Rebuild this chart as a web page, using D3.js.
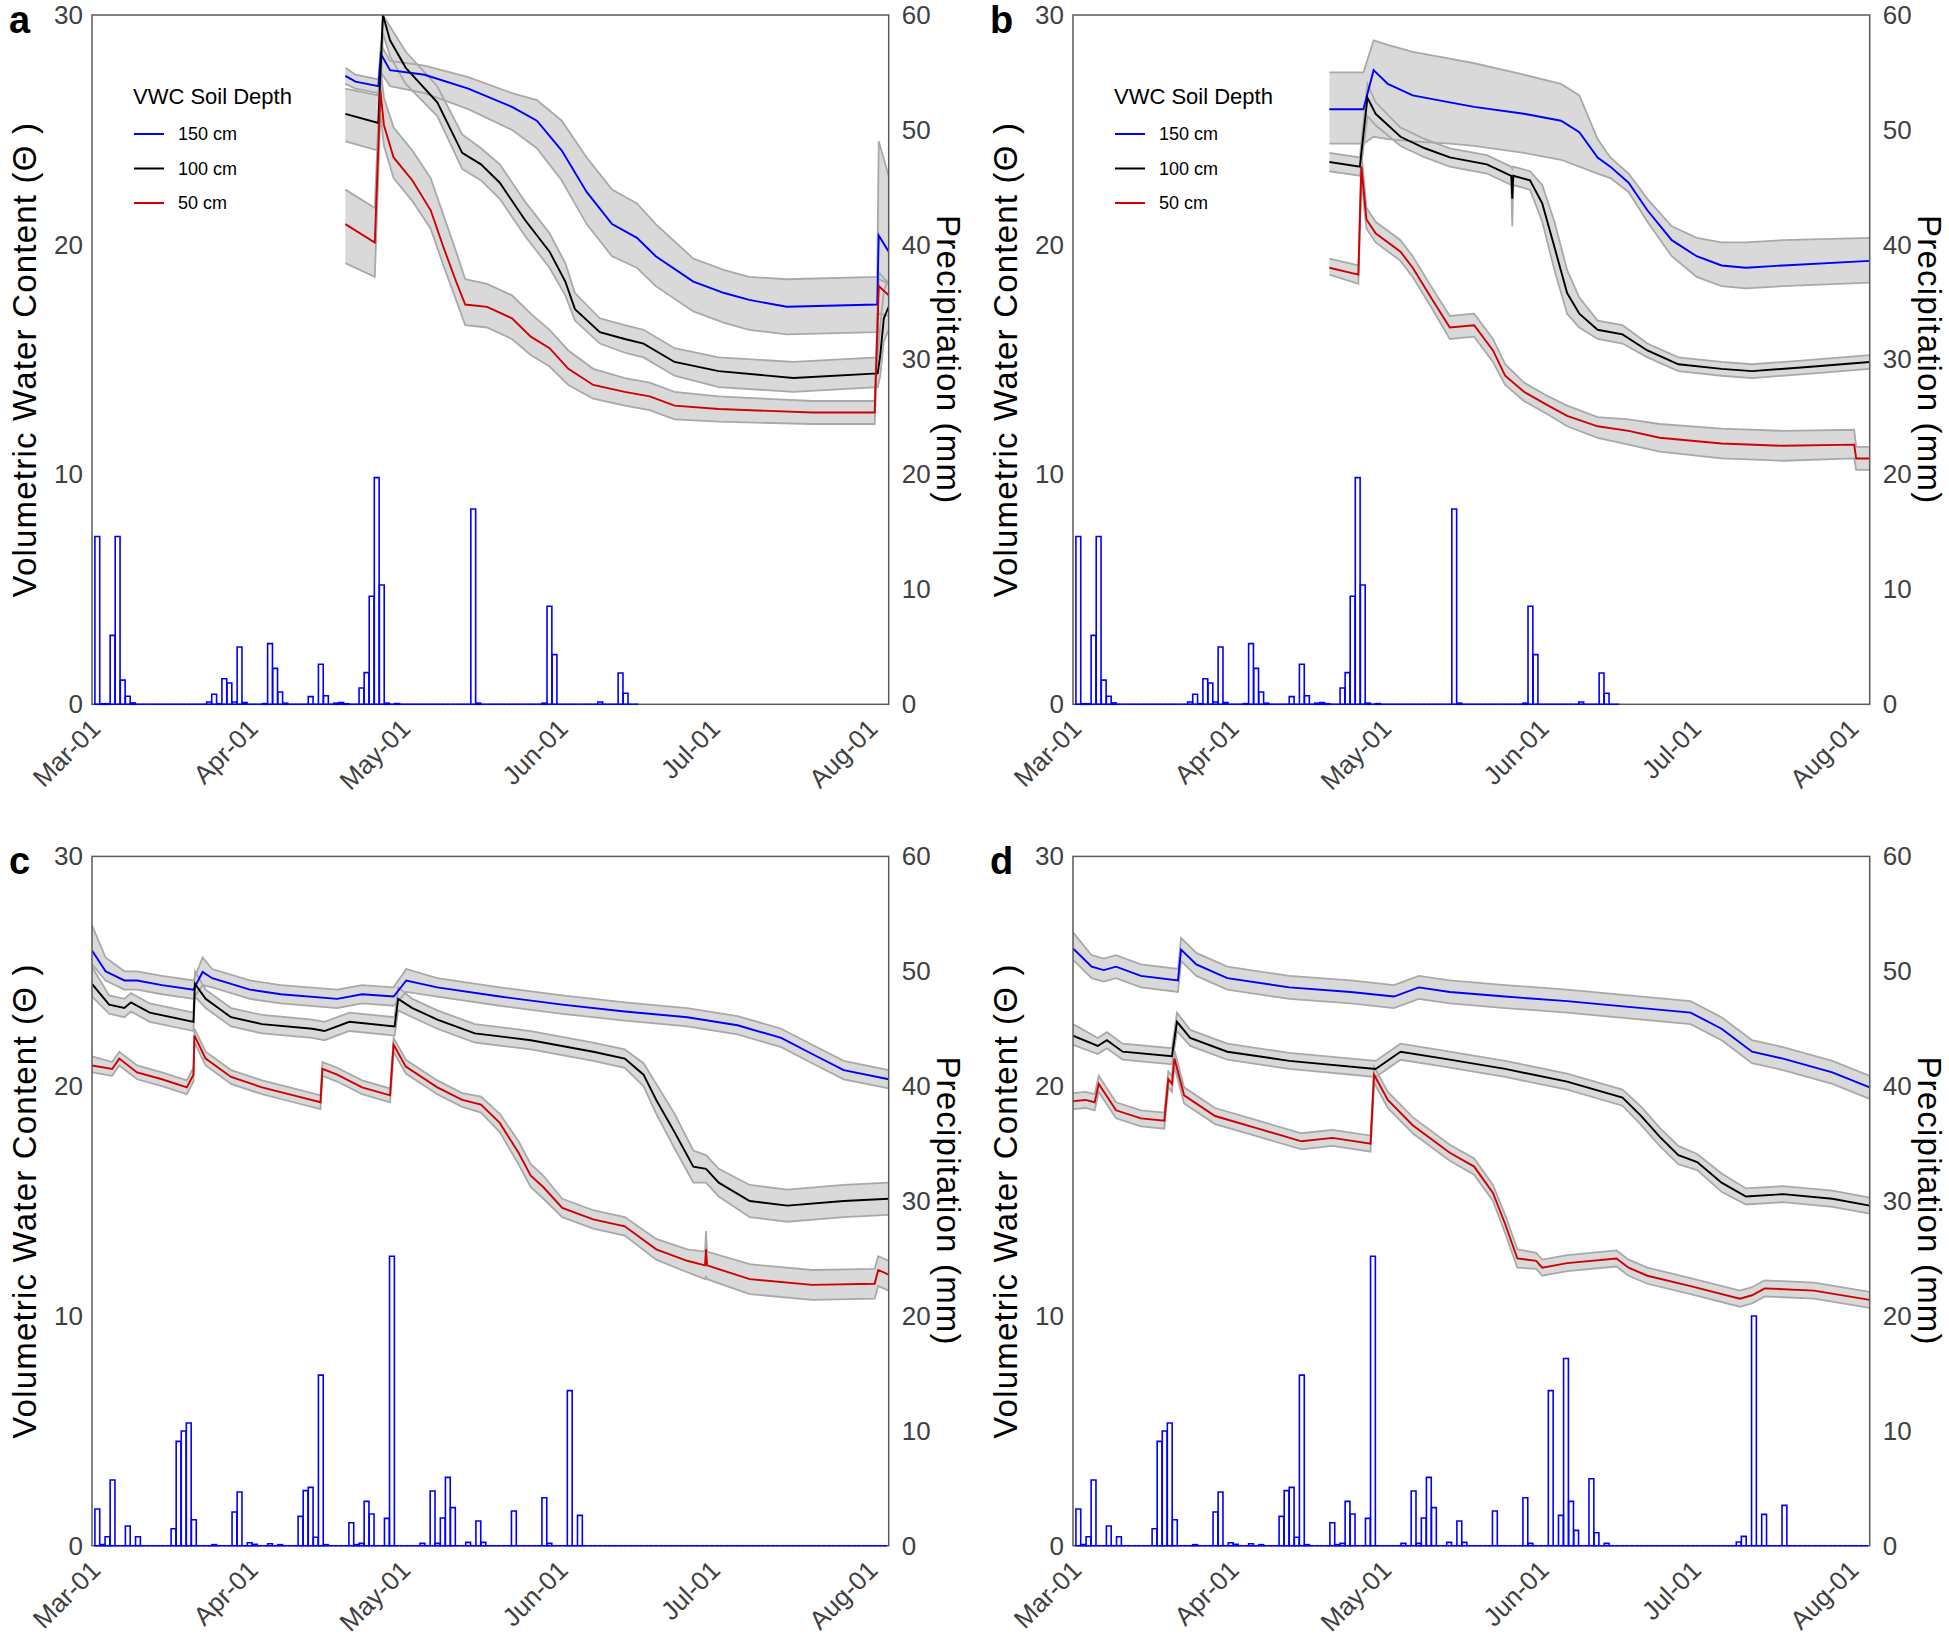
<!DOCTYPE html>
<html>
<head>
<meta charset="utf-8">
<title>Volumetric water content and precipitation</title>
<script src="https://cdn.jsdelivr.net/npm/d3@7"></script>
<style>
  body { margin: 0; background: #fff; }
  text { font-family: "Liberation Sans", Arial, sans-serif; }
  .tick text { fill: #404040; font-size: 26px; }
  .axis_label { font-size: 33px; letter-spacing: 1.2px; fill: #000; text-anchor: middle; }
  .panel_letter { font-size: 38px; font-weight: bold; }
  .legend text { font-size: 18px; }
</style>
</head>
<body>
<script>
// ---- data: rows are [day since Mar-01, mean - sd, mean, mean + sd] ----
var vwcA150 = [[48.0,27.0,27.35,27.7],[50.0,26.8,27.1,27.4],[54.5,26.6,26.9,27.2],[55.0,27.5,28.3,28.7],
  [56.8,26.9,27.6,28.0],[63.6,26.6,27.4,27.8],[72.2,25.9,26.8,27.3],[80.8,25.0,26.0,26.6],[85.7,24.2,25.4,26.3],
  [90.6,22.8,24.1,25.4],[95.5,20.9,22.3,23.8],[100.5,19.5,20.9,22.4],[105.4,19.0,20.3,21.8],[109.1,18.2,19.5,20.9],
  [116.5,17.1,18.4,19.4],[122.6,16.6,17.9,18.9],[127.5,16.3,17.6,18.6],[134.9,16.1,17.3,18.5],[152.7,16.2,17.4,18.6],
  [153.0,18.5,20.4,24.5],[154.96,18.3,19.7,23.0]];
var vwcA100 = [[48.0,24.5,25.7,26.8],[54.5,24.1,25.3,26.5],[55.4,29.2,30.0,30.0],[56.8,28.2,28.9,29.5],
  [59.9,27.0,27.7,28.4],[66.1,25.6,26.2,26.9],[71.0,23.3,24.0,24.8],[74.7,22.8,23.5,24.2],[78.4,22.0,22.7,23.5],
  [83.3,20.4,21.1,21.9],[88.2,19.0,19.7,20.5],[91.3,17.8,18.4,19.2],[93.2,16.7,17.2,17.9],[98.1,15.7,16.2,16.8],
  [103.0,15.3,15.9,16.5],[106.7,15.1,15.7,16.3],[112.8,14.3,14.9,15.5],[121.5,13.8,14.5,15.1],[136.2,13.6,14.2,14.9],
  [152.8,13.8,14.4,15.1],[153.3,14.3,15.2,16.5],[154.0,15.8,16.8,18.0],[154.96,16.3,17.3,18.5]];
var vwcA50 = [[48.0,19.2,20.9,22.4],[53.8,18.6,20.1,21.6],[54.9,25.7,26.7,27.7],[55.6,24.3,25.2,26.4],
  [57.5,22.9,23.8,25.1],[61.2,21.9,22.8,24.1],[64.8,20.7,21.5,22.9],[67.3,19.1,19.9,21.3],[69.8,17.6,18.4,19.7],
  [71.6,16.5,17.4,18.5],[75.9,16.4,17.3,18.3],[80.8,15.9,16.8,17.8],[84.5,15.2,16.0,17.0],[88.2,14.7,15.5,16.3],
  [91.9,13.9,14.6,15.4],[96.8,13.3,13.9,14.6],[103.0,13.0,13.6,14.2],[107.9,12.8,13.4,14.0],[112.8,12.4,13.0,13.6],
  [121.5,12.3,12.85,13.4],[139.9,12.2,12.7,13.2],[152.2,12.2,12.7,13.2],[153.0,17.0,18.2,18.8],[154.96,16.9,17.8,18.3]];

var vwcB150 = [[48.6,24.4,25.9,27.5],[55.3,24.4,25.9,27.5],[57.3,24.7,27.6,28.9],[60.1,24.6,27.0,28.7],
  [65.0,24.5,26.5,28.4],[72.3,24.4,26.2,28.1],[77.1,24.3,26.0,27.9],[86.9,24.0,25.7,27.4],[94.2,23.7,25.4,27.0],
  [97.8,23.4,24.9,26.5],[101.4,23.1,23.8,24.6],[103.9,22.9,23.4,23.8],[107.5,22.3,22.7,23.1],[111.2,21.0,21.5,22.0],
  [116.0,19.5,20.2,20.8],[120.9,18.6,19.5,20.3],[125.8,18.2,19.1,20.1],[130.6,18.1,19.0,20.1],[137.9,18.2,19.1,20.2],
  [154.96,18.35,19.3,20.3]];
var vwcB100 = [[48.6,23.2,23.6,24.0],[54.6,23.0,23.4,23.8],[56.1,25.6,26.4,27.0],[57.7,25.2,25.7,26.2],
  [62.6,24.3,24.7,25.1],[67.4,23.8,24.2,24.6],[72.3,23.4,23.8,24.2],[79.6,23.1,23.5,23.9],[84.4,22.6,23.0,23.4],
  [84.6,20.8,22.0,23.3],[84.8,22.6,23.0,23.4],[88.1,22.4,22.8,23.2],[90.5,21.0,21.8,22.6],[92.9,18.9,19.9,21.0],
  [95.4,17.0,17.9,18.9],[97.8,16.4,17.0,17.7],[101.4,15.9,16.3,16.7],[106.3,15.7,16.1,16.5],[111.2,15.1,15.4,15.7],
  [117.3,14.5,14.8,15.1],[125.8,14.3,14.6,14.9],[131.8,14.2,14.5,14.8],[144.0,14.4,14.7,15.0],[154.96,14.6,14.9,15.2]];
var vwcB50 = [[48.6,18.7,19.0,19.4],[54.3,18.3,18.7,19.1],[54.9,22.8,23.4,24.0],[55.9,20.7,21.1,21.6],
  [57.7,20.1,20.5,21.0],[62.6,19.3,19.7,20.2],[65.0,18.6,19.0,19.5],[68.6,17.3,17.7,18.2],[72.3,15.9,16.4,16.9],
  [77.1,16.0,16.5,17.0],[80.8,14.9,15.4,15.9],[83.2,13.9,14.3,14.8],[86.9,13.2,13.6,14.0],[91.7,12.6,13.0,13.4],
  [95.4,12.1,12.55,13.0],[101.4,11.6,12.1,12.5],[107.5,11.3,11.9,12.4],[113.6,11.0,11.6,12.2],[125.8,10.7,11.35,12.0],
  [138.0,10.6,11.25,11.9],[151.9,10.7,11.3,11.95],[152.3,10.2,10.7,11.2],[154.96,10.2,10.7,11.2]];

var vwcC150 = [[-1.87,25.3,25.9,27.0],[0.8,24.6,25.0,25.6],[4.5,24.2,24.6,25.0],[7.0,24.2,24.6,25.0],
  [11.9,24.0,24.4,24.8],[18.1,23.8,24.2,24.6],[19.9,24.4,24.97,25.6],[21.8,24.3,24.7,25.1],[29.2,23.8,24.2,24.6],
  [35.3,23.6,24.0,24.4],[46.4,23.4,23.8,24.2],[51.3,23.6,24.0,24.4],[57.5,23.5,23.9,24.3],[60.0,24.1,24.6,25.1],
  [66.1,23.9,24.3,24.7],[78.4,23.5,23.9,24.3],[90.7,23.15,23.55,23.95],[103.0,22.85,23.25,23.65],[115.3,22.6,23.0,23.4],
  [125.2,22.25,22.65,23.05],[133.8,21.7,22.1,22.5],[139.9,21.0,21.4,21.8],[146.1,20.3,20.7,21.1],[154.96,19.9,20.3,20.7]];
var vwcC100 = [[-1.87,23.9,24.45,25.2],[1.5,23.15,23.55,23.95],[4.5,23.0,23.4,23.8],[5.8,23.25,23.65,24.05],
  [9.5,22.8,23.2,23.6],[18.1,22.4,22.8,23.2],[18.4,23.9,24.45,25.0],[20.5,23.4,23.8,24.2],[25.5,22.6,23.0,23.4],
  [31.6,22.3,22.7,23.1],[41.5,22.1,22.5,22.9],[43.9,22.0,22.4,22.8],[48.8,22.4,22.8,23.2],[57.7,22.2,22.6,23.0],
  [58.4,23.3,23.8,24.3],[61.2,23.0,23.4,23.8],[66.1,22.5,22.9,23.3],[73.5,21.9,22.3,22.7],[84.5,21.6,22.0,22.4],
  [96.8,21.1,21.5,21.9],[103.0,20.8,21.2,21.6],[106.7,20.0,20.5,21.0],[109.2,18.8,19.4,20.1],[112.8,17.3,18.0,18.8],
  [116.5,15.8,16.5,17.2],[119.0,15.8,16.4,17.0],[121.5,15.2,15.8,16.4],[127.6,14.3,15.0,15.7],[135.0,14.1,14.8,15.5],
  [146.1,14.3,15.0,15.7],[154.96,14.4,15.1,15.8]];
var vwcC50 = [[-1.87,20.6,20.9,21.3],[2.1,20.45,20.75,21.05],[3.5,20.9,21.2,21.5],[7.0,20.3,20.6,20.9],
  [11.9,20.0,20.3,20.6],[16.8,19.65,19.95,20.25],[18.1,20.2,20.5,20.8],[18.3,21.9,22.2,22.5],[20.5,20.9,21.2,21.5],
  [25.5,20.1,20.4,20.7],[31.6,19.65,19.95,20.25],[37.8,19.3,19.6,19.9],[43.1,19.0,19.3,19.6],[43.5,20.45,20.75,21.05],
  [46.4,20.2,20.5,20.8],[51.3,19.65,19.95,20.25],[56.8,19.3,19.6,19.9],[57.5,21.5,21.8,22.1],[59.9,20.55,20.85,21.15],
  [66.1,19.65,19.95,20.25],[71.0,19.1,19.4,19.7],[74.7,18.85,19.2,19.55],[78.4,18.0,18.4,18.8],[82.1,16.6,17.1,17.6],
  [84.5,15.6,16.1,16.6],[87.0,15.1,15.6,16.1],[90.7,14.3,14.7,15.1],[96.8,13.8,14.2,14.6],[103.0,13.5,13.9,14.3],
  [109.2,12.45,12.9,13.35],[115.3,11.9,12.4,12.9],[118.8,11.6,12.2,12.8],[119.0,11.7,12.9,13.7],[119.2,11.6,12.2,12.8],
  [127.6,10.95,11.6,12.25],[139.9,10.7,11.35,12.0],[152.2,10.75,11.4,12.05],[152.9,11.3,12.0,12.6],[154.96,11.1,11.8,12.4]];

var vwcD150 = [[-1.87,25.5,26.0,26.7],[1.8,24.7,25.2,25.7],[4.2,24.55,25.05,25.55],[6.6,24.7,25.2,25.7],
  [11.5,24.3,24.8,25.3],[18.8,24.1,24.6,25.1],[19.4,25.45,25.95,26.45],[22.4,24.8,25.3,25.8],[28.5,24.2,24.7,25.2],
  [40.7,23.8,24.3,24.8],[52.8,23.6,24.1,24.6],[61.3,23.4,23.9,24.4],[66.2,23.8,24.3,24.8],[72.3,23.6,24.1,24.6],
  [83.2,23.4,23.9,24.4],[95.4,23.2,23.7,24.2],[107.5,22.95,23.45,23.95],[119.7,22.7,23.2,23.7],[125.8,22.0,22.5,23.0],
  [131.8,21.0,21.5,22.0],[137.9,20.7,21.2,21.7],[147.6,20.1,20.6,21.1],[154.96,19.45,19.95,20.45]];
var vwcD100 = [[-1.87,21.8,22.2,22.7],[3.0,21.4,21.75,22.1],[4.8,21.65,22.0,22.35],[7.9,21.15,21.5,21.85],
  [17.6,20.95,21.3,21.65],[18.6,22.4,22.8,23.2],[21.2,21.75,22.1,22.45],[28.5,21.15,21.5,21.85],[40.7,20.75,21.1,21.45],
  [57.7,20.4,20.75,21.1],[62.6,21.15,21.5,21.85],[71.1,20.85,21.2,21.55],[83.2,20.4,20.75,21.1],[95.4,19.85,20.2,20.55],
  [106.3,19.15,19.5,19.85],[110.0,18.3,18.7,19.1],[113.6,17.4,17.8,18.2],[117.3,16.6,17.0,17.4],[121.0,16.35,16.7,17.05],
  [125.8,15.4,15.8,16.2],[130.6,14.85,15.2,15.55],[137.9,14.95,15.3,15.65],[147.6,14.75,15.1,15.45],[154.96,14.45,14.8,15.15]];
var vwcD50 = [[-1.87,19.0,19.35,19.7],[0.6,19.05,19.4,19.75],[2.4,18.95,19.3,19.65],[3.2,19.75,20.1,20.45],
  [6.6,18.6,18.95,19.3],[11.5,18.25,18.6,18.95],[16.1,18.15,18.5,18.85],[16.9,19.95,20.3,20.65],[17.6,19.75,20.1,20.45],
  [18.1,20.85,21.2,21.55],[20.0,19.25,19.6,19.95],[26.1,18.35,18.7,19.05],[34.6,17.8,18.15,18.5],[43.1,17.25,17.6,17.95],
  [49.2,17.4,17.75,18.1],[56.7,17.15,17.5,17.85],[57.4,20.15,20.5,20.85],[60.1,19.05,19.4,19.75],[65.0,17.95,18.3,18.65],
  [72.3,16.75,17.1,17.45],[77.1,16.15,16.5,16.85],[80.8,15.0,15.35,15.7],[83.2,13.6,14.0,14.4],[85.6,12.1,12.5,12.9],
  [89.3,12.05,12.4,12.75],[90.5,11.75,12.1,12.45],[95.4,11.95,12.3,12.65],[105.1,12.15,12.5,12.85],[107.5,11.75,12.1,12.45],
  [111.2,11.4,11.75,12.1],[119.7,10.95,11.3,11.65],[129.4,10.4,10.75,11.1],[131.8,10.55,10.9,11.25],[134.3,10.85,11.2,11.55],
  [144.0,10.75,11.1,11.45],[154.96,10.35,10.7,11.05]];

// daily precipitation (mm): [day since Mar-01, mm]; days not listed are 0
var precipAB = [[-1,14.6],[0,0.05],[1,0.05],[2,6.0],[3,14.6],[4,2.1],[5,0.7],[6,0.12],
  [21,0.2],[22,0.87],[23,0.05],[24,2.23],[25,1.86],[26,0.2],[27,4.99],[28,0.15],
  [32,0.06],[33,5.28],[34,3.13],[35,1.07],[36,0.1],[41,0.67],[43,3.48],[44,0.75],[46,0.1],[47,0.15],[48,0.05],
  [51,1.42],[52,2.76],[53,9.4],[54,19.73],[55,10.39],[56,0.1],[58,0.06],[73,17.0],[74,0.1],
  [87,0.1],[88,8.53],[89,4.32],[98,0.2],[102,2.73],[103,0.96]];
var precipABLastDay = 105;
var precipC = [[-1,3.19],[0,0.1],[1,0.78],[2,5.72],[5,1.71],[7,0.78],[14,1.48],[15,9.08],[16,9.98],[17,10.68],[18,2.26],
  [22,0.09],[26,2.93],[27,4.67],[29,0.26],[30,0.12],[33,0.17],[35,0.09],[39,2.55],[40,4.79],[41,5.08],[42,0.73],
  [43,14.85],[44,0.09],[49,2.0],[50,0.09],[51,0.2],[52,3.86],[53,2.76],[56,2.38],[57,25.2],[63,0.2],[65,4.76],[66,0.2],
  [67,2.41],[68,5.95],[69,3.31],[72,0.29],[74,2.15],[75,0.29],[81,3.02],[87,4.18],[88,0.2],[92,13.5],[94,2.64]];
var precipD = [[-1,3.19],[0,0.1],[1,0.78],[2,5.72],[5,1.71],[7,0.78],[14,1.48],[15,9.08],[16,9.98],[17,10.68],[18,2.26],
  [22,0.09],[26,2.93],[27,4.67],[29,0.26],[30,0.12],[33,0.17],[35,0.09],[39,2.55],[40,4.79],[41,5.08],[42,0.73],
  [43,14.85],[44,0.09],[49,2.0],[50,0.09],[51,0.2],[52,3.86],[53,2.76],[56,2.38],[57,25.2],[63,0.2],[65,4.76],[66,0.2],
  [67,2.41],[68,5.95],[69,3.31],[72,0.29],[74,2.15],[75,0.29],[81,3.02],[87,4.18],[88,0.2],[92,13.5],[94,2.64],
  [95,16.3],[96,3.86],[97,1.33],[100,5.83],[101,1.13],[103,0.2],[129,0.32],[130,0.81],[132,19.99],[134,2.73],[138,3.51]];
var precipCDLastDay = 154;

var depthLabels = ["150 cm", "100 cm", "50 cm"];
var depthColors = ["#0000ff", "#000000", "#d00000"];
var leftTicks = [0, 10, 20, 30];
var rightTicks = [0, 10, 20, 30, 40, 50, 60];

// ---- layout ----
var width = 1949, height = 1642;
var colLeft = [92, 1073], rowTop = [15, 856.4];
var plotW = 796.7, plotH = 689.3;
var xStart = -1.87, xEnd = 154.96;      // days relative to Mar-01
var barStart = -0.3, barEnd = 0.65;     // bar extent inside its day

function toDate(d) { return new Date(Date.UTC(2019, 2, 1) + d * 864e5); }

function dailySeries(pairs, lastDay) {
  var m = new Map(pairs);
  var out = [];
  for (var i = -1; i <= lastDay; i++) out.push({ day: i, value: m.has(i) ? m.get(i) : 0 });
  return out;
}

var panels = [
  { id: "a", col: 0, row: 0, series: [vwcA150, vwcA100, vwcA50], precip: precipAB, last: precipABLastDay, legend: true },
  { id: "b", col: 1, row: 0, series: [vwcB150, vwcB100, vwcB50], precip: precipAB, last: precipABLastDay, legend: true },
  { id: "c", col: 0, row: 1, series: [vwcC150, vwcC100, vwcC50], precip: precipC, last: precipCDLastDay, legend: false },
  { id: "d", col: 1, row: 1, series: [vwcD150, vwcD100, vwcD50], precip: precipD, last: precipCDLastDay, legend: false }
];

var svg = d3.select("body").append("svg")
  .attr("width", width)
  .attr("height", height);

panels.forEach(function(p) {
  var left = colLeft[p.col], top = rowTop[p.row];
  var right = left + plotW, bottom = top + plotH;

  var x = d3.scaleUtc().domain([toDate(xStart), toDate(xEnd)]).range([left, right]);
  var yL = d3.scaleLinear().domain([0, 30]).range([bottom, top]);
  var yR = d3.scaleLinear().domain([0, 60]).range([bottom, top]);

  var g = svg.append("g").attr("id", "panel_" + p.id);

  g.append("clipPath").attr("id", "clip_" + p.id)
    .append("rect").attr("x", left).attr("y", top).attr("width", plotW).attr("height", plotH);
  var plot = g.append("g").attr("clip-path", "url(#clip_" + p.id + ")");

  // sd bands
  var band = d3.area()
    .x(function(d) { return x(toDate(d[0])); })
    .y0(function(d) { return yL(d[1]); })
    .y1(function(d) { return yL(d[3]); });
  p.series.forEach(function(s) {
    plot.append("path").datum(s).attr("d", band).attr("fill", "#d9d9d9");
  });
  // band edges
  p.series.forEach(function(s) {
    [1, 3].forEach(function(k) {
      var edge = d3.line()
        .x(function(d) { return x(toDate(d[0])); })
        .y(function(d) { return yL(d[k]); });
      plot.append("path").datum(s).attr("d", edge)
        .attr("fill", "none").attr("stroke", "#a9a9a9").attr("stroke-width", 1.8);
    });
  });
  // mean lines
  var meanLine = d3.line()
    .x(function(d) { return x(toDate(d[0])); })
    .y(function(d) { return yL(d[2]); });
  p.series.forEach(function(s, i) {
    plot.append("path").datum(s).attr("d", meanLine)
      .attr("fill", "none").attr("stroke", depthColors[i]).attr("stroke-width", 1.9);
  });

  // frame
  g.append("rect")
    .attr("x", left).attr("y", top).attr("width", plotW).attr("height", plotH)
    .attr("fill", "none").attr("stroke", "#5a5a5a").attr("stroke-width", 1.5);

  // precipitation bars (outlined)
  g.append("g").attr("class", "bars")
    .selectAll("path")
    .data(dailySeries(p.precip, p.last))
    .enter()
    .append("path")
    .attr("d", function(d) {
      var x0 = x(toDate(d.day + barStart)), x1 = x(toDate(d.day + barEnd));
      return "M" + x0 + "," + yR(0) + "V" + yR(d.value) + "H" + x1 + "V" + yR(0) + "Z";
    })
    .attr("fill", "none")
    .attr("stroke", "#0000ff")
    .attr("stroke-width", 1.6);

  // axes
  var axL = g.append("g")
    .attr("transform", "translate(" + left + ",0)")
    .call(d3.axisLeft(yL).tickValues(leftTicks).tickSize(0).tickPadding(9));
  axL.select(".domain").remove();

  var axR = g.append("g")
    .attr("transform", "translate(" + right + ",0)")
    .call(d3.axisRight(yR).tickValues(rightTicks).tickSize(0).tickPadding(13));
  axR.select(".domain").remove();

  var axB = g.append("g")
    .attr("transform", "translate(0," + bottom + ")")
    .call(d3.axisBottom(x).tickValues(d3.utcMonths(toDate(0), toDate(154))).tickSize(0)
      .tickFormat(d3.utcFormat("%b-%d")));
  axB.select(".domain").remove();
  axB.selectAll("text")
    .attr("x", 0).attr("y", 0).attr("dy", 0)
    .attr("transform", "translate(0,26) rotate(-45)")
    .style("text-anchor", "end");

  g.selectAll(".tick text").attr("font-family", null);

  // axis titles
  g.append("text")
    .attr("class", "axis_label")
    .attr("transform", "translate(" + (left - 56) + "," + (top + plotH / 2) + ") rotate(-90)")
    .text("Volumetric Water Content (Θ )");
  g.append("text")
    .attr("class", "axis_label")
    .attr("transform", "translate(" + (right + 48) + "," + (top + plotH / 2) + ") rotate(90)")
    .text("Precipitation (mm)");

  // panel letter
  g.append("text")
    .attr("class", "panel_letter")
    .attr("x", left - 83)
    .attr("y", top + 18)
    .text(p.id);

  // legend
  if (p.legend) {
    var lg = g.append("g").attr("class", "legend");
    lg.append("text").attr("x", left + 41).attr("y", top + 89)
      .style("font-size", "22px").text("VWC Soil Depth");
    depthLabels.forEach(function(lab, i) {
      var yy = top + 119 + i * 34.5;
      lg.append("line").attr("x1", left + 42).attr("x2", left + 72)
        .attr("y1", yy).attr("y2", yy)
        .attr("stroke", depthColors[i]).attr("stroke-width", 2);
      lg.append("text").attr("x", left + 86).attr("y", yy)
        .attr("dy", "0.35em").text(lab);
    });
  }
});
</script>
</body>
</html>
